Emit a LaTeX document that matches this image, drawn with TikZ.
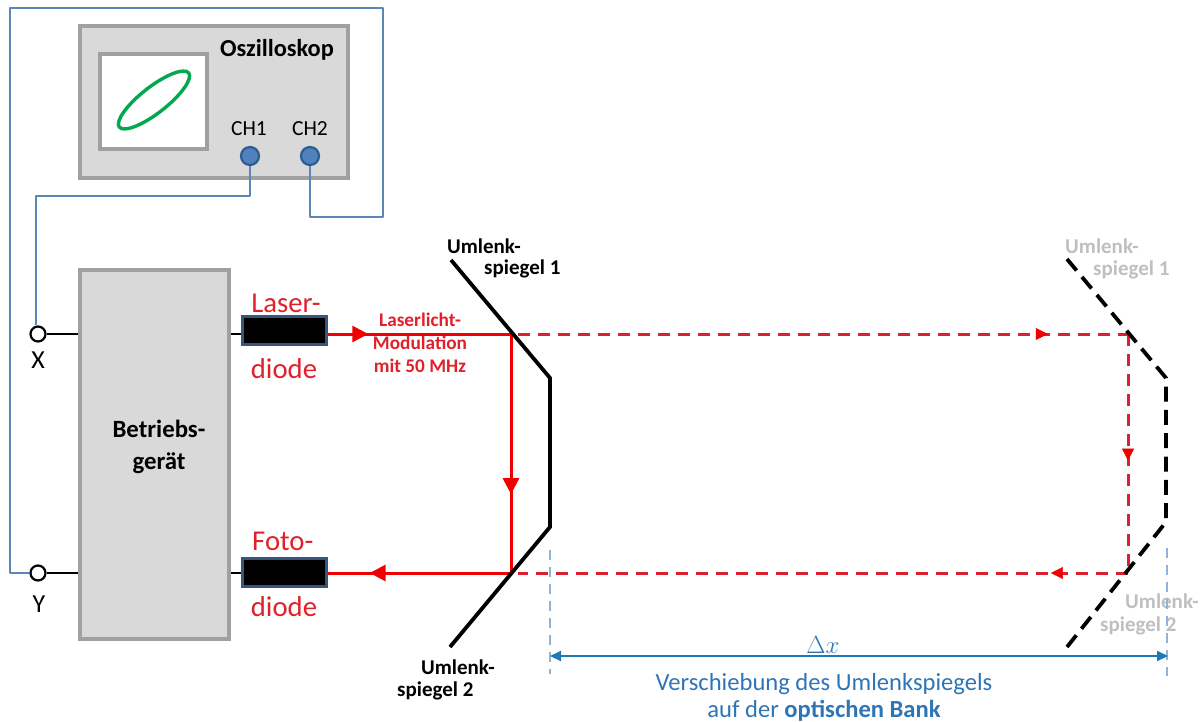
\documentclass[tikz,border=0pt]{standalone}
\usepackage{fontspec}
\setmainfont{Carlito}
\usetikzlibrary{arrows.meta,decorations.markings}
\definecolor{boxgrey}{HTML}{D9D9D9}
\definecolor{boxedge}{HTML}{A0A0A0}
\definecolor{wire}{HTML}{5B86B8}
\definecolor{jack}{HTML}{4F81BD}
\definecolor{jackedge}{HTML}{2F5B8F}
\definecolor{beam}{HTML}{F00000}
\definecolor{beamdash}{HTML}{DC2030}
\definecolor{redtext}{HTML}{E0202A}
\definecolor{dim}{HTML}{1F78B8}
\definecolor{dimtext}{HTML}{2E75B6}
\definecolor{dimdash}{HTML}{8FB4DC}
\definecolor{ghost}{HTML}{BFBFBF}
\definecolor{trace}{HTML}{00A850}
\definecolor{diodeedge}{HTML}{36557F}
\tikzset{
  x=1pt,y=-1pt,
  box/.style={draw=boxedge,fill=boxgrey,line width=3.4pt,minimum width=#1,inner sep=0pt},
  jackdot/.style={circle,draw=jackedge,fill=jack,line width=2.2pt,minimum size=18pt,inner sep=0pt},
  terminal/.style={circle,draw=black,fill=white,line width=2.2pt,minimum size=15pt,inner sep=0pt},
  diodebox/.style={rectangle,draw=diodeedge,fill=black,line width=3pt,minimum width=84pt,minimum height=28pt,inner sep=0pt},
  wireline/.style={draw=wire,line width=1.5pt,line join=round},
  lead/.style={draw=black,line width=2.4pt},
  beamline/.style={draw=beam,line width=3pt},
  beamdashed/.style={draw=beamdash,line width=3pt,dash pattern=on 12pt off 8pt},
  mirror/.style={draw=black,line width=3.8pt,line join=miter},
  mirrordashed/.style={draw=black,line width=3.8pt,dash pattern=on 15pt off 8.33pt},
  guide/.style={draw=dimdash,line width=1.8pt,dash pattern=on 10pt off 7pt},
  midtip/.style args={#1 with #2}{color=beam,postaction={decorate},decoration={markings,mark=at position #1 with {\arrow{Triangle[length=#2,width=#2]}}}},
  biglabel/.style={text=redtext,font=\fontsize{28.7}{30}\selectfont,inner sep=0pt},
  smalllabel/.style={text=redtext,font=\bfseries\fontsize{19.3}{23}\selectfont,align=center,inner sep=0pt},
  mlabel/.style={font=\bfseries\fontsize{21}{22}\selectfont,inner sep=0pt},
  glabel/.style={mlabel,text=ghost},
}
\begin{document}
\begin{tikzpicture}
\useasboundingbox (0,0) rectangle (1204,722);
% oscilloscope
\node[box=268pt,minimum height=152pt,rectangle] (osc) at (214,102) {};
\node[rectangle,draw=boxedge,fill=white,line width=3.4pt,minimum width=107pt,minimum height=95pt,inner sep=0pt] (screen) at (153.5,101.5) {};
\draw[trace,line width=3.4pt,rotate around={38:(154,100)}] (154,100) ellipse [x radius=44,y radius=13];
\node[font=\bfseries\fontsize{24.4}{26}\selectfont,inner sep=0pt] (osctitle) at (277,50) {Oszilloskop};
\node[font=\fontsize{21.5}{22}\selectfont,inner sep=0pt] (chonelabel) at (249,129) {CH1};
\node[font=\fontsize{21.5}{22}\selectfont,inner sep=0pt] (chtwolabel) at (310,129) {CH2};
\node[jackdot] (chone) at (250,156) {};
\node[jackdot] (chtwo) at (310,156) {};
% operating unit
\node[box=149pt,minimum height=369pt,rectangle] (unit) at (154.5,454.5) {};
\node[font=\bfseries\fontsize{24.8}{32}\selectfont,align=center,inner sep=0pt] (unitlabel) at (159,447) {Betriebs-\\gerät};
% terminals
\node[terminal] (tx) at (38,334) {};
\node[terminal] (ty) at (38,573) {};
\node[font=\fontsize{26}{28}\selectfont,inner sep=0pt] (xlabel) at (38,360) {X};
\node[font=\fontsize{26}{28}\selectfont,inner sep=0pt] (ylabel) at (39,604) {Y};
% diodes
\node[diodebox] (laser) at (284.5,330.5) {};
\node[diodebox] (foto) at (284,572.5) {};
\node[biglabel] (laserA) at (286,303) {Laser-};
\node[biglabel] (laserB) at (284,369) {diode};
\node[biglabel,anchor=west] (fotoA) at (252,541) {Foto-};
\node[biglabel] (fotoB) at (284,607) {diode};
\node[smalllabel] (modlabel) at (420,343) {Laserlicht-\\Modulation\\mit 50 MHz};
% named points
\coordinate (wa) at (36,196);
\coordinate (wb) at (250,196);
\coordinate (wc) at (310,217);
\coordinate (wd) at (383,217);
\coordinate (we) at (383,8);
\coordinate (wf) at (10,8);
\coordinate (wg) at (10,573);
\coordinate (splitA) at (511,334);
\coordinate (splitB) at (511,573);
\coordinate (farA) at (1128,334);
\coordinate (farB) at (1128,573);
\coordinate (laserR) at (laser.east |- splitA);
\coordinate (fotoR) at (foto.east |- splitB);
\coordinate (ma) at (451,260);
\coordinate (mb) at (550,378);
\coordinate (mc) at (550,527);
\coordinate (md) at (450,647);
\coordinate (na) at (1067,259);
\coordinate (nb) at (1166,378);
\coordinate (nc) at (1166,522);
\coordinate (nd) at (1067,647);
\coordinate (ga) at (550,550);
\coordinate (gb) at (550,674);
\coordinate (gc) at (1167,548);
\coordinate (gd) at (1167,676);
\coordinate (da) at (550,656);
\coordinate (db) at (1168,656);
% wires
\draw[wireline] (chone.south) -- (wb) -- (wa) -- (tx.north -| wa);
\draw[wireline] (chtwo.south) -- (wc) -- (wd) -- (we) -- (wf) -- (wg) -- (ty.west);
% leads
\draw[lead] (tx.east) -- (tx.east -| unit.west);
\draw[lead] (ty.east) -- (ty.east -| unit.west);
\draw[lead] (unit.east |- splitA) -- (laser.west |- splitA);
\draw[lead] (unit.east |- splitB) -- (foto.west |- splitB);
% dashed beams
\draw[beamdashed] (splitA) ++(7,0) -- (farA);
\draw[beamdashed] (farA) -- (farB);
\draw[beamdashed] (farB) -- ([xshift=7pt]splitB);
\path[midtip=0.87 with 12pt] (splitA) -- (farA);
\path[midtip=0.53 with 12pt] (farA) -- (farB);
\path[midtip=0.125 with 12pt] (farB) -- (splitB);
% solid beams
\draw[beamline,midtip=0.22 with 16pt] (laserR) -- (splitA);
\draw[beamline,midtip=0.67 with 16pt] (splitA) -- (splitB);
\draw[beamline,midtip=0.77 with 16pt] (splitB) -- (fotoR);
% mirrors
\draw[mirror] (ma) -- (mb) -- (mc) -- (md);
\draw[mirrordashed] (na) -- (nb) -- (nc) -- (nd);
\node[mlabel,anchor=west] (mAa) at (447,246) {Umlenk-};
\node[mlabel,anchor=west] (mAb) at (484,269) {spiegel 1};
\node[mlabel,anchor=west] (mBa) at (421,667) {Umlenk-};
\node[mlabel,anchor=west] (mBb) at (397,691) {spiegel 2};
\node[glabel,anchor=west] (nAa) at (1065,246) {Umlenk-};
\node[glabel,anchor=west] (nAb) at (1093,270) {spiegel 1};
\node[glabel,anchor=west] (nBa) at (1125,601) {Umlenk-};
\node[glabel,anchor=west] (nBb) at (1100,626) {spiegel 2};
% dimension
\draw[guide] (ga) -- (gb);
\draw[guide] (gc) -- (gd);
\draw[dim,line width=2pt,{Triangle[length=11pt,width=10pt]}-{Triangle[length=11pt,width=10pt]}] (da) -- (db);
\node[text=dimtext,font=\fontsize{24}{26}\selectfont,inner sep=0pt] (dx) at (823,645) {$\Delta x$};
\node[text=dimtext,font=\fontsize{24.6}{27}\selectfont,align=center,inner sep=0pt] (dtext) at (824,697) {Verschiebung des Umlenkspiegels\\auf der \textbf{optischen Bank}};
\end{tikzpicture}
\end{document}
